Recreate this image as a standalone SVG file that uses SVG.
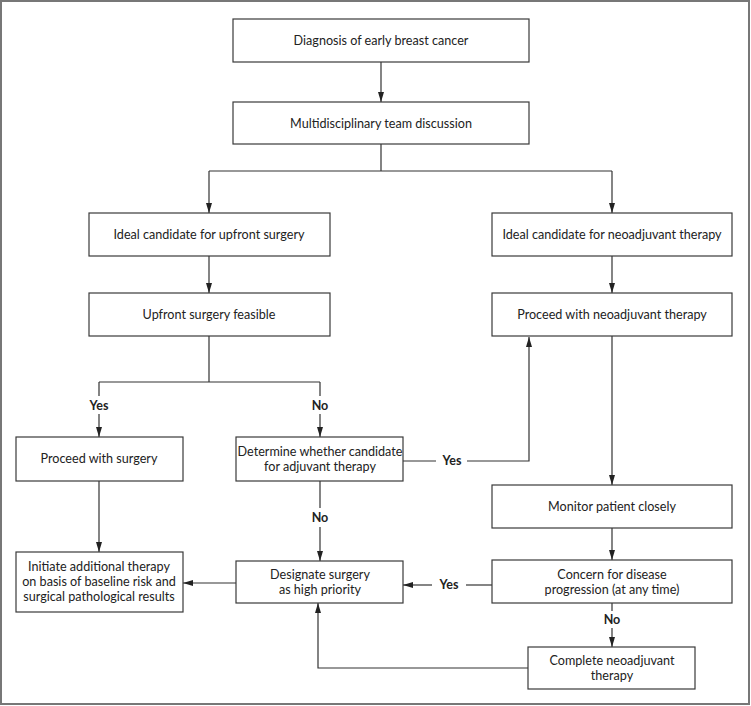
<svg xmlns="http://www.w3.org/2000/svg" width="751" height="706" viewBox="0 0 751 706">
<style>
.box{fill:#fff;stroke:#3a3a3a;stroke-width:1.2}
.t{font-family:Lato,"Open Sans","Liberation Sans",sans-serif;font-size:12.6px;fill:#222;text-anchor:middle}
.lbl{font-family:Lato,"Open Sans","Liberation Sans",sans-serif;font-size:12.5px;font-weight:bold;fill:#222;text-anchor:middle}
.c{fill:none;stroke:#333;stroke-width:1.2}
</style>
<defs>
<marker id="ah" viewBox="0 0 10 10" refX="10" refY="5" markerWidth="10" markerHeight="10" markerUnits="userSpaceOnUse" orient="auto">
<path d="M0,2 L10,5 L0,8 z" fill="#222"/>
</marker>
</defs>
<rect x="1" y="1" width="748" height="703" fill="#fff" stroke="#777" stroke-width="2"/>
<g id="connectors">
<path class="c" d="M381,62 V102" marker-end="url(#ah)"/>
<path class="c" d="M381,144 V171 M209,171 H612"/>
<path class="c" d="M209,171 V213" marker-end="url(#ah)"/>
<path class="c" d="M612,171 V213" marker-end="url(#ah)"/>
<path class="c" d="M209,256 V293" marker-end="url(#ah)"/>
<path class="c" d="M612,256 V293" marker-end="url(#ah)"/>
<path class="c" d="M209,336 V382 M99,382 H320 M99,382 V396 M320,382 V396"/>
<path class="c" d="M99,414 V437" marker-end="url(#ah)"/>
<path class="c" d="M320,414 V437" marker-end="url(#ah)"/>
<path class="c" d="M99,481 V552" marker-end="url(#ah)"/>
<path class="c" d="M320,481 V508"/>
<path class="c" d="M320,527 V561" marker-end="url(#ah)"/>
<path class="c" d="M236,583 H183" marker-end="url(#ah)"/>
<path class="c" d="M403,461 H436"/>
<path class="c" d="M467,461 H529 V337" marker-end="url(#ah)"/>
<path class="c" d="M612,336 V485" marker-end="url(#ah)"/>
<path class="c" d="M612,528 V560" marker-end="url(#ah)"/>
<path class="c" d="M492,585 H466"/>
<path class="c" d="M432,585 H403" marker-end="url(#ah)"/>
<path class="c" d="M612,603 V611"/>
<path class="c" d="M612,628 V647" marker-end="url(#ah)"/>
<path class="c" d="M528,668 H318 V603" marker-end="url(#ah)"/>
<text class="lbl" x="99" y="410">Yes</text>
<text class="lbl" x="320" y="410">No</text>
<text class="lbl" x="320" y="522">No</text>
<text class="lbl" x="452" y="465">Yes</text>
<text class="lbl" x="449" y="589">Yes</text>
<text class="lbl" x="612" y="624">No</text>
</g>
<g id="n1"><rect class="box" x="233" y="19" width="296" height="43"/><text class="t" x="381" y="45">Diagnosis of early breast cancer</text></g>
<g id="n2"><rect class="box" x="233" y="102" width="296" height="42"/><text class="t" x="381" y="128">Multidisciplinary team discussion</text></g>
<g id="n3"><rect class="box" x="89" y="213" width="241" height="43"/><text class="t" x="209" y="239">Ideal candidate for upfront surgery</text></g>
<g id="n4"><rect class="box" x="492" y="213" width="240" height="43"/><text class="t" x="612" y="239">Ideal candidate for neoadjuvant therapy</text></g>
<g id="n5"><rect class="box" x="89" y="293" width="241" height="43"/><text class="t" x="209" y="319">Upfront surgery feasible</text></g>
<g id="n6"><rect class="box" x="492" y="293" width="240" height="43"/><text class="t" x="612" y="319">Proceed with neoadjuvant therapy</text></g>
<g id="n7"><rect class="box" x="16" y="437" width="167" height="44"/><text class="t" x="99" y="463">Proceed with surgery</text></g>
<g id="n8"><rect class="box" x="236" y="437" width="167" height="44"/><text class="t" x="320" y="456">Determine whether candidate</text><text class="t" x="320" y="471">for adjuvant therapy</text></g>
<g id="n9"><rect class="box" x="492" y="485" width="240" height="43"/><text class="t" x="612" y="511">Monitor patient closely</text></g>
<g id="n10"><rect class="box" x="16" y="552" width="167" height="60"/><text class="t" x="99" y="571">Initiate additional therapy</text><text class="t" x="99" y="586">on basis of baseline risk and</text><text class="t" x="99" y="601">surgical pathological results</text></g>
<g id="n11"><rect class="box" x="236" y="561" width="167" height="42"/><text class="t" x="320" y="579">Designate surgery</text><text class="t" x="320" y="594">as high priority</text></g>
<g id="n12"><rect class="box" x="492" y="560" width="240" height="43"/><text class="t" x="612" y="579">Concern for disease</text><text class="t" x="612" y="594">progression (at any time)</text></g>
<g id="n13"><rect class="box" x="528" y="647" width="167" height="42"/><text class="t" x="612" y="665">Complete neoadjuvant</text><text class="t" x="612" y="680">therapy</text></g>
</svg>
